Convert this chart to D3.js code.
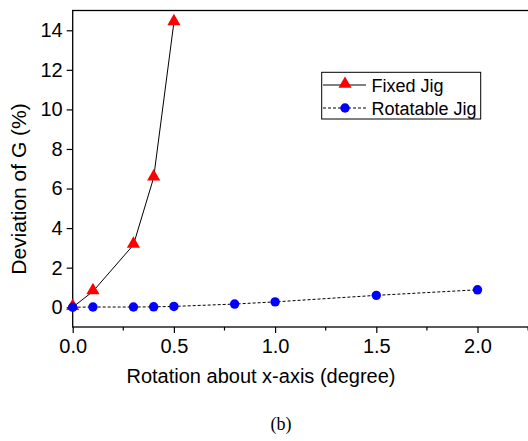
<!DOCTYPE html>
<html>
<head>
<meta charset="utf-8">
<script src="https://cdn.jsdelivr.net/npm/d3@7"></script>
<style>
  body { margin: 0; background: #fff; }
  svg { display: block; }
  text { font-family: Arial, "Liberation Sans", sans-serif; fill: #000; }
</style>
</head>
<body>
<svg id="chart" width="528" height="441"></svg>
<script>
// values
var rotation = [0, 0.1, 0.3, 0.4, 0.5, 0.8, 1.0, 1.5, 2.0];
var fixedX = [0, 0.1, 0.3, 0.4, 0.5];
var fixedY = [0, 0.8, 3.15, 6.55, 14.4];
var rotatableY = [0, 0.01, 0.01, 0.02, 0.04, 0.16, 0.27, 0.6, 0.88];
var xTicks = [0, 0.5, 1.0, 1.5, 2.0];
var xMinor = [0.25, 0.75, 1.25, 1.75, 2.25];
var yTicks = [0, 2, 4, 6, 8, 10, 12, 14];
var seriesNames = ["Fixed Jig", "Rotatable Jig"];

var svg = d3.select("#chart");

var x = d3.scaleLinear().domain([0, 2.5]).range([72.7, 578.7]);
var y = d3.scaleLinear().domain([-1, 15]).range([327, 10.5]);

var fixed = fixedX.map(function(v, i) { return [v, fixedY[i]]; });
var rotatable = rotation.map(function(v, i) { return [v, rotatableY[i]]; });

// frame
svg.append("rect")
    .attr("x", x(0)).attr("y", y(15))
    .attr("width", x(2.5) - x(0)).attr("height", y(-1) - y(15))
    .attr("fill", "none").attr("stroke", "#000").attr("stroke-width", 1.3);

// x axis
var xAxis = svg.append("g").attr("transform", "translate(0," + y(-1) + ")")
    .call(d3.axisBottom(x).tickValues(xTicks).tickSize(6).tickPadding(4)
        .tickFormat(d3.format(".1f")));
xAxis.select(".domain").remove();
xAxis.selectAll("text").style("font-size", "20px").attr("dy", "0.8em");
xAxis.selectAll("line").attr("stroke-width", 1.2);

svg.append("g").selectAll("line").data(xMinor).enter().append("line")
    .attr("x1", function(d) { return x(d); }).attr("x2", function(d) { return x(d); })
    .attr("y1", y(-1)).attr("y2", y(-1) + 3.5)
    .attr("stroke", "#000").attr("stroke-width", 1.2);

// y axis
var yAxis = svg.append("g").attr("transform", "translate(" + x(0) + ",0)")
    .call(d3.axisLeft(y).tickValues(yTicks).tickSize(6).tickPadding(4));
yAxis.select(".domain").remove();
yAxis.selectAll("text").style("font-size", "20px");
yAxis.selectAll("line").attr("stroke-width", 1.2);

// axis titles
svg.append("text")
    .attr("x", 261).attr("y", 383)
    .attr("text-anchor", "middle").style("font-size", "20px")
    .text("Rotation about x-axis (degree)");

svg.append("text")
    .attr("transform", "translate(26,189) rotate(-90)")
    .attr("text-anchor", "middle").style("font-size", "21px")
    .text("Deviation of G (%)");

svg.append("text")
    .attr("x", 281).attr("y", 430)
    .attr("text-anchor", "middle")
    .style("font-family", "'Liberation Serif', 'Times New Roman', serif")
    .style("font-size", "18px")
    .text("(b)");

// lines
var line = d3.line()
    .x(function(d) { return x(d[0]); })
    .y(function(d) { return y(d[1]); });

svg.append("path").datum(rotatable).attr("d", line)
    .attr("fill", "none").attr("stroke", "#000").attr("stroke-width", 1)
    .attr("stroke-dasharray", "3,2");

svg.append("path").datum(fixed).attr("d", line)
    .attr("fill", "none").attr("stroke", "#000").attr("stroke-width", 1);

var tri = d3.symbol().type(d3.symbolTriangle).size(75);

svg.append("g").selectAll("path").data(fixed).enter().append("path")
    .attr("d", tri)
    .attr("transform", function(d) { return "translate(" + x(d[0]) + "," + (y(d[1]) - 1) + ")"; })
    .attr("fill", "#ff0000");

svg.append("g").selectAll("circle").data(rotatable).enter().append("circle")
    .attr("cx", function(d) { return x(d[0]); })
    .attr("cy", function(d) { return y(d[1]); })
    .attr("r", 4.7)
    .attr("fill", "#0000ff");

// legend
var lg = svg.append("g");
lg.append("rect")
    .attr("x", 321.7).attr("y", 72.3).attr("width", 159).attr("height", 46.7)
    .attr("fill", "#fff").attr("stroke", "#000").attr("stroke-width", 1);

seriesNames.forEach(function(name, i) {
    var yy = 85 + i * 23;
    lg.append("line")
        .attr("x1", 323).attr("x2", 366).attr("y1", yy).attr("y2", yy)
        .attr("stroke", "#000").attr("stroke-width", 1)
        .attr("stroke-dasharray", i === 0 ? null : "3,2");
    if (i === 0) {
        lg.append("path").attr("d", tri)
            .attr("transform", "translate(345," + (yy - 1) + ")")
            .attr("fill", "#ff0000");
    } else {
        lg.append("circle").attr("cx", 345).attr("cy", yy).attr("r", 4.7)
            .attr("fill", "#0000ff");
    }
    lg.append("text")
        .attr("x", 371.5).attr("y", yy + 6.5)
        .style("font-size", "18px")
        .text(name);
});
</script>
</body>
</html>
